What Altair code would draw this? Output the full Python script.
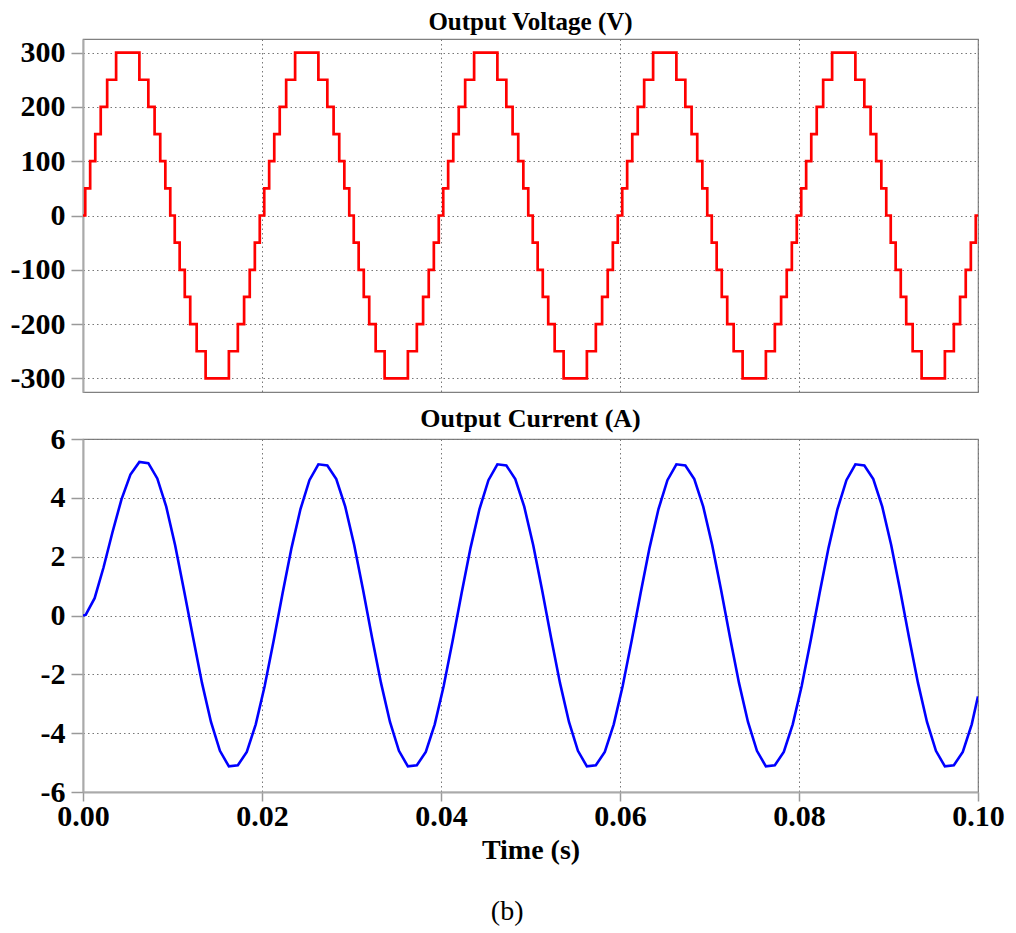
import altair as alt
import pandas as pd

# ---------------- data ----------------
# Voltage staircase: switching instants (ms) and the level after each one
V_EDGES_MS = [
    0.25, 0.8, 1.37, 1.98, 2.7, 3.7, 6.3, 7.3, 8.0, 8.63, 9.2, 9.75,
    10.25, 10.8, 11.37, 11.98, 12.7, 13.7, 16.3, 17.3, 18.0, 18.63, 19.2, 19.75,
    20.25, 20.8, 21.37, 21.98, 22.7, 23.7, 26.3, 27.3, 28.0, 28.63, 29.2, 29.75,
    30.25, 30.8, 31.37, 31.98, 32.7, 33.7, 36.3, 37.3, 38.0, 38.63, 39.2, 39.75,
    40.25, 40.8, 41.37, 41.98, 42.7, 43.7, 46.3, 47.3, 48.0, 48.63, 49.2, 49.75,
    50.25, 50.8, 51.37, 51.98, 52.7, 53.7, 56.3, 57.3, 58.0, 58.63, 59.2, 59.75,
    60.25, 60.8, 61.37, 61.98, 62.7, 63.7, 66.3, 67.3, 68.0, 68.63, 69.2, 69.75,
    70.25, 70.8, 71.37, 71.98, 72.7, 73.7, 76.3, 77.3, 78.0, 78.63, 79.2, 79.75,
    80.25, 80.8, 81.37, 81.98, 82.7, 83.7, 86.3, 87.3, 88.0, 88.63, 89.2, 89.75,
    90.25, 90.8, 91.37, 91.98, 92.7, 93.7, 96.3, 97.3, 98.0, 98.63, 99.2, 99.75,
]
V_CYCLE_LEVELS = [50, 100, 150, 200, 250, 300, 250, 200, 150, 100, 50, 0,
                  -50, -100, -150, -200, -250, -300, -250, -200, -150, -100, -50, 0]
V_LEVELS = V_CYCLE_LEVELS * 5

# Current samples (A), every 1 ms starting at 0.3 ms, plus both ends
I_VALUES = [
    0.00,
    0.02, 0.59, 1.64, 2.84, 3.95, 4.79, 5.22, 5.18, 4.66, 3.70,
    2.38, 0.83, -0.75, -2.30, -3.62, -4.60, -5.13, -5.09, -4.64, -3.70,
    -2.40, -0.86, 0.76, 2.30, 3.62, 4.60, 5.14, 5.10, 4.64, 3.70,
    2.40, 0.86, -0.76, -2.30, -3.62, -4.60, -5.13, -5.09, -4.64, -3.70,
    -2.40, -0.86, 0.76, 2.30, 3.62, 4.60, 5.14, 5.10, 4.64, 3.70,
    2.40, 0.86, -0.76, -2.30, -3.62, -4.60, -5.13, -5.09, -4.64, -3.70,
    -2.40, -0.86, 0.76, 2.30, 3.62, 4.60, 5.14, 5.10, 4.64, 3.70,
    2.40, 0.86, -0.76, -2.30, -3.62, -4.60, -5.13, -5.09, -4.64, -3.70,
    -2.40, -0.86, 0.76, 2.30, 3.62, 4.60, 5.14, 5.10, 4.64, 3.70,
    2.40, 0.86, -0.76, -2.30, -3.62, -4.60, -5.13, -5.09, -4.64, -3.70,
    -2.75,
]
I_TIMES_MS = [0.0] + [k + 0.3 for k in range(100)] + [100.0]

X_TICKS = [0.0, 0.02, 0.04, 0.06, 0.08, 0.10]
V_TICKS = [-300, -200, -100, 0, 100, 200, 300]
I_TICKS = [-6, -4, -2, 0, 2, 4, 6]

TITLE_V = "Output Voltage (V)"
TITLE_I = "Output Current (A)"
X_TITLE = "Time (s)"
CAPTION = "(b)"

# ---------------- tables ----------------
vdf = pd.DataFrame({
    "t": [0.0] + [e / 1000 for e in V_EDGES_MS] + [0.1],
    "v": [0] + V_LEVELS + [0],
})
idf = pd.DataFrame({"t": [t / 1000 for t in I_TIMES_MS], "i": I_VALUES})

FONT = "Liberation Serif"
W, H = 895, 353
x_scale = alt.Scale(domain=[0, 0.1], nice=False, zero=False)

top = alt.Chart(vdf).mark_line(
    color="#ff0000", strokeWidth=2.7, interpolate="step-after", clip=True
).encode(
    x=alt.X("t:Q", scale=x_scale,
            axis=alt.Axis(values=X_TICKS, labels=False, ticks=False, domain=False,
                          grid=True, title=None)),
    y=alt.Y("v:Q", scale=alt.Scale(domain=[-325, 325], nice=False),
            axis=alt.Axis(values=V_TICKS, title=None, labelExpr="'' + datum.value",
                          tickSize=12, labelPadding=6, grid=True)),
).properties(
    width=W, height=H,
    title=alt.TitleParams(TITLE_V, offset=3, fontSize=25),
)

bottom = alt.Chart(idf).mark_line(
    color="#0000ff", strokeWidth=2.6, clip=True
).encode(
    x=alt.X("t:Q", scale=x_scale,
            axis=alt.Axis(values=X_TICKS, format=".2f", title=X_TITLE, tickSize=9,
                          labelPadding=0, labelFlush=False, titlePadding=5,
                          titleFontSize=28, grid=True)),
    y=alt.Y("i:Q", scale=alt.Scale(domain=[-6, 6], nice=False),
            axis=alt.Axis(values=I_TICKS, title=None, labelExpr="'' + datum.value",
                          tickSize=12, labelPadding=6, grid=True)),
).properties(
    width=W, height=H,
    title=alt.TitleParams(TITLE_I, offset=-8),
)

chart = alt.vconcat(top, bottom, spacing=10).properties(
    title=alt.TitleParams(CAPTION, orient="bottom", anchor="middle",
                          fontWeight="normal", fontSize=28, offset=33),
    padding={"left": 1, "top": 0, "right": 0, "bottom": 0},
).configure_axis(
    labelFont=FONT, labelFontWeight="bold", labelFontSize=30, labelColor="black",
    titleFont=FONT, titleFontWeight="bold", titleFontSize=26, titleColor="black",
    gridColor="#777777", gridDash=[1.5, 3], gridWidth=1,
    tickColor="#999999", tickWidth=1.5,
    domainColor="#aaaaaa", domainWidth=2,
).configure_view(
    stroke="#808080", strokeWidth=1.2,
).configure_title(
    font=FONT, fontWeight="bold", fontSize=26, color="black",
)

chart.save("out.html", embed_options={"renderer": "svg", "actions": False})
